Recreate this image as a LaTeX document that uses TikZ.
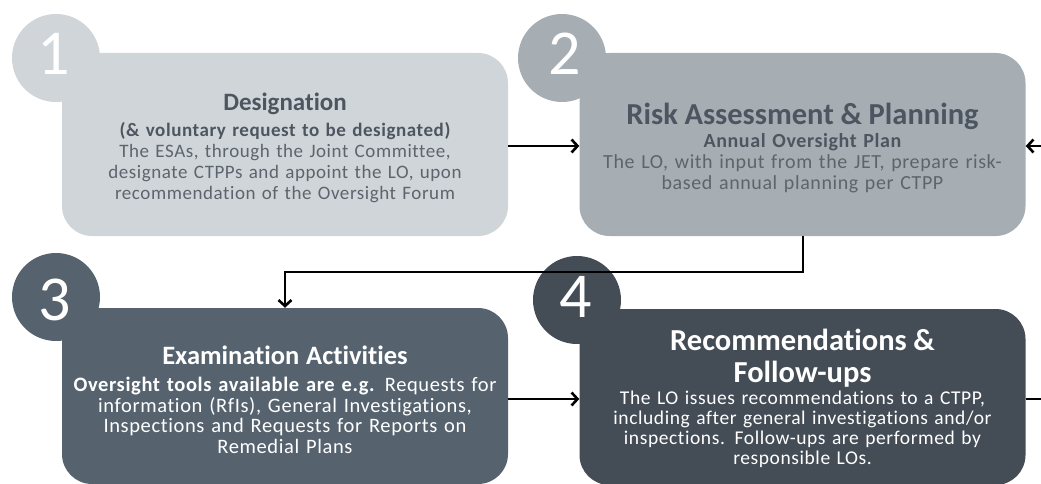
\documentclass[tikz,border=0pt]{standalone}
\usepackage{fontspec}
\setmainfont{Carlito}[Ligatures=CommonOff]
\newfontfamily\bodyfam{Carlito}[Ligatures=CommonOff,LetterSpace=3,WordSpace=1.25]
\usetikzlibrary{arrows.meta}
\definecolor{cA}{HTML}{D0D5D9}
\definecolor{cB}{HTML}{A6AEB4}
\definecolor{cC}{HTML}{56636F}
\definecolor{cD}{HTML}{444D56}
\definecolor{tdark}{HTML}{4D5660}
\definecolor{tbody}{HTML}{5C646D}
\begin{document}
\begin{tikzpicture}[x=1pt,y=-1pt,
  box/.style={rounded corners=30pt, minimum width=446pt, minimum height=183pt, inner sep=0pt},
  txt/.style={align=center, text width=446pt, inner sep=0pt},
  badge/.style={circle, minimum size=88pt, inner sep=0pt},
  num/.style={anchor=base, text=white, font=\fontsize{64}{64}\selectfont},
  conn/.style={line width=2.6pt, -{Straight Barb[length=6pt,width=13pt,line width=2.6pt]}},
  plain/.style={line width=2.6pt}]
\useasboundingbox (0,0) rectangle (1041,484);
% badges
\node[badge, fill=cA] (c1) at (56,58) {};
\node[badge, fill=cB] (c2) at (562,58) {};
\node[badge, fill=cC] (c3) at (56,297) {};
\node[badge, fill=cD] (c4) at (577,300) {};
% boxes
\node[box, fill=cA] (b1) at (285,144.5) {};
\node[box, fill=cB] (b2) at (802.5,144.5) {};
\node[box, fill=cC, minimum height=176pt] (b3) at (285,396) {};
\node[box, fill=cD, minimum height=176pt] (b4) at (802.5,397) {};
% texts
\node[txt, text=tbody, font={\bodyfam\fontsize{19}{21}\selectfont}, yshift=-3.5pt] (t1) at (b1.center)
  {{\rmfamily\fontsize{25}{30}\selectfont\bfseries\color{tdark}Designation}\\[5pt]{\bfseries\color{tdark}(\& voluntary request to be designated)}\\The ESAs, through the Joint Committee,\\designate CTPPs and appoint the LO, upon\\recommendation of the Oversight Forum};
\node[txt, text=tbody, font={\bodyfam\fontsize{20}{21}\selectfont}, yshift=-3.5pt] (t2) at (b2.center)
  {{\rmfamily\fontsize{30.5}{35}\selectfont\bfseries\color{tdark}Risk Assessment \& Planning}\\[2pt]{\bfseries\color{tdark}Annual Oversight Plan}\\The LO, with input from the JET, prepare risk-\\based annual planning per CTPP\\[4pt]};
\node[txt, text=white, font={\bodyfam\fontsize{20.5}{20.5}\selectfont}, yshift=-4pt] (t3) at (b3.center)
  {{\rmfamily\fontsize{26.5}{32}\selectfont\bfseries Examination Activities}\\[6.5pt]{\bfseries Oversight tools available are e.g.} Requests for\\information (RfIs), General Investigations,\\Inspections and Requests for Reports on\\Remedial Plans};
\node[txt, text=white, font={\bodyfam\fontsize{19.5}{20}\selectfont}, yshift=-1.5pt] (t4) at (b4.center)
  {{\rmfamily\fontsize{30.5}{32}\selectfont\bfseries Recommendations \&}\\[9pt]{\rmfamily\fontsize{30.5}{32}\selectfont\bfseries Follow-ups}\\[2pt]The LO issues recommendations to a CTPP,\\including after general investigations and/or\\inspections. Follow-ups are performed by\\responsible LOs.};
% numbers
\node[num] (n1) at (54,75) {1};
\node[num] (n2) at (565,75) {2};
\node[num] (n3) at (55,320) {3};
\node[num] (n4) at (576,317) {4};
% connectors
\coordinate (r2) at (1041,146);
\coordinate (r4) at (1041,399);
\draw[conn] (b1.east |- 0,146) -- (b2.west |- 0,146);
\draw[conn] (r2) -- (b2.east |- 0,146);
\draw[conn] (b2.south -| 803,0) -- (803,272) -- (285,272) -- (b3.north -| 285,0);
\draw[conn] (b3.east |- 0,399) -- (b4.west |- 0,399);
\draw[plain] (b4.east |- 0,399) -- (r4);
\end{tikzpicture}
\end{document}
